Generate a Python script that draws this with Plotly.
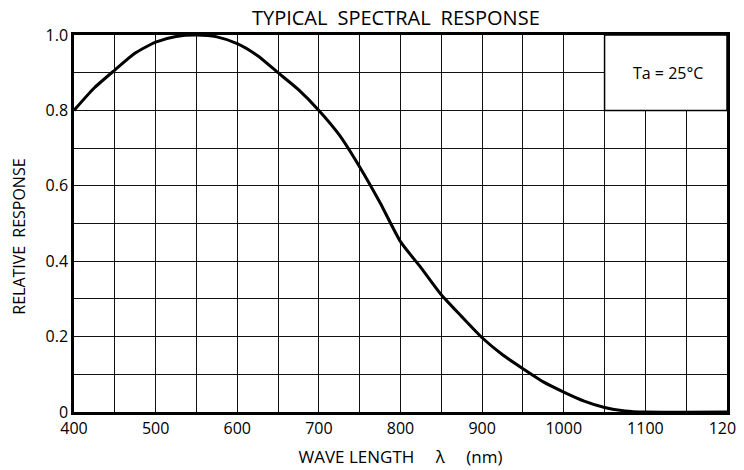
import plotly.graph_objects as go

wavelength = [400, 425, 450, 475, 500, 525, 550, 575, 600, 625, 650, 675, 700, 725, 750,
              775, 800, 825, 850, 875, 900, 925, 950, 975, 1000, 1025, 1050, 1075, 1100, 1200]
response = [0.80, 0.86, 0.907, 0.952, 0.981, 0.996, 1.0, 0.995, 0.977, 0.945, 0.90, 0.855,
            0.80, 0.735, 0.65, 0.555, 0.452, 0.383, 0.311, 0.253, 0.197, 0.152, 0.115, 0.08,
            0.053, 0.029, 0.012, 0.003, 0.0, 0.0]

x_ticks = [400, 500, 600, 700, 800, 900, 1000, 1100, 1200]
x_ticklabels = ["400", "500", "600", "700", "800", "900", "1000", "1100", "1200"]
y_ticks = [0, 0.2, 0.4, 0.6, 0.8, 1.0]
y_ticklabels = ["0", "0.2", "0.4", "0.6", "0.8", "1.0"]

title_text = "TYPICAL\u2002SPECTRAL\u2002RESPONSE"
x_title = "WAVE LENGTH\u2003 \u03bb\u2003 (nm)"
y_title = "RELATIVE\u2002RESPONSE"
note_text = "Ta = 25\u00b0C"

FONT = "Open Sans"

fig = go.Figure()
fig.add_trace(go.Scatter(
    x=wavelength, y=response, mode="lines",
    line=dict(color="black", width=3, shape="spline", smoothing=0.6),
    hoverinfo="skip", showlegend=False,
))

grid_col = "#111111"
fig.update_xaxes(
    range=[400, 1200], tickvals=x_ticks, ticktext=x_ticklabels,
    showgrid=True, gridcolor=grid_col, gridwidth=1.3,
    minor=dict(dtick=50, tick0=400, showgrid=True, gridcolor=grid_col, gridwidth=1.3),
    showline=True, linecolor="black", linewidth=2.5, mirror=True,
    ticks="", zeroline=False, ticklabeloverflow="allow", automargin=False,
    tickfont=dict(family=FONT, size=16, color="black"),
    title=dict(text=x_title, font=dict(family=FONT, size=17, color="black"), standoff=14),
)
fig.update_yaxes(
    range=[0, 1.0], tickvals=y_ticks, ticktext=y_ticklabels,
    showgrid=True, gridcolor=grid_col, gridwidth=1.3,
    minor=dict(dtick=0.1, tick0=0, showgrid=True, gridcolor=grid_col, gridwidth=1.3),
    showline=True, linecolor="black", linewidth=2.5, mirror=True,
    ticks="", zeroline=False, automargin=False,
    tickfont=dict(family=FONT, size=16, color="black"),
)

# y-axis title placed as rotated annotation
fig.add_annotation(xref="paper", yref="paper", x=0, y=0.465, xanchor="center", yanchor="middle",
                   xshift=-55, text=y_title, textangle=-90, showarrow=False,
                   font=dict(family=FONT, size=16, color="black"))

# white box holding the temperature note
fig.add_shape(type="rect", xref="x", yref="y", x0=1050, x1=1200, y0=0.8, y1=1.0,
              fillcolor="white", line=dict(color="black", width=1.5), layer="above")
fig.add_annotation(x=1125, y=0.9, xref="x", yref="y", text=note_text, showarrow=False,
                   xshift=2, font=dict(family=FONT, size=16, color="black"))

fig.update_layout(
    width=736, height=462,
    margin=dict(l=66, r=17, t=27, b=58),
    paper_bgcolor="white", plot_bgcolor="white",
    title=dict(text=title_text, x=0.527, xanchor="center", y=0.994, yanchor="top",
               pad=dict(t=0), font=dict(family=FONT, size=20, color="black")),
)

fig.write_html("out.html")
